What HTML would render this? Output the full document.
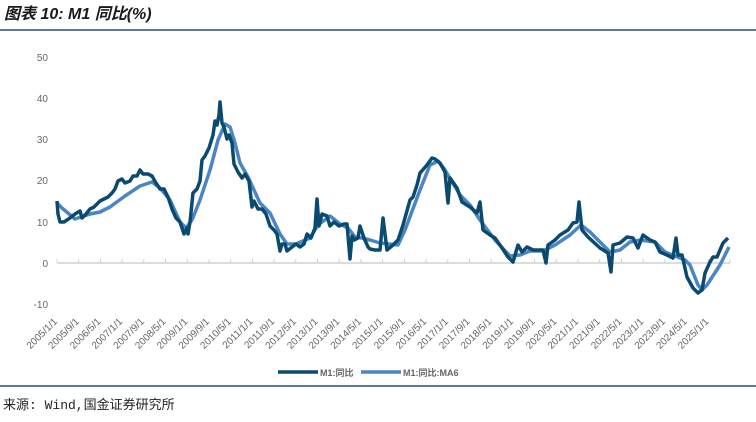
<!DOCTYPE html>
<html><head><meta charset="utf-8"><style>
body{margin:0;background:#fff;width:756px;height:422px;overflow:hidden}
svg{display:block}
</style></head><body>
<svg width="756" height="422" xmlns="http://www.w3.org/2000/svg" font-family="Liberation Sans, Noto Sans CJK SC, sans-serif">
<text x="4" y="19" font-size="16" font-weight="bold" font-style="italic" fill="#1a1a1a">图表 10: M1 同比(%)</text>
<line x1="0" y1="30" x2="756" y2="30" stroke="#1d4f73" stroke-width="1.5"/>
<g font-size="10" fill="#666" text-anchor="end">
<text x="48" y="61">50</text><text x="48" y="102">40</text><text x="48" y="143">30</text>
<text x="48" y="184">20</text><text x="48" y="226">10</text><text x="48" y="267">0</text><text x="48" y="308">-10</text>
</g>
<line x1="57" y1="263" x2="730" y2="263" stroke="#d0d0d0" stroke-width="1.5"/>
<g stroke="#d0d0d0" stroke-width="1">
<path d="M57 263v-4M78.7 263v-4M100.4 263v-4M122.1 263v-4M143.8 263v-4M165.5 263v-4M187.3 263v-4M209 263v-4M230.7 263v-4M252.4 263v-4M274.1 263v-4M295.8 263v-4M317.5 263v-4M339.2 263v-4M360.9 263v-4M382.6 263v-4M404.4 263v-4M426.1 263v-4M447.8 263v-4M469.5 263v-4M491.2 263v-4M512.9 263v-4M534.6 263v-4M556.3 263v-4M578 263v-4M599.7 263v-4M621.5 263v-4M643.2 263v-4M664.9 263v-4M686.6 263v-4M708.3 263v-4M730 263v-4"/>
</g>
<polyline fill="none" stroke="#4a85c4" stroke-width="3.5" stroke-linejoin="round" points="57,203 62,208 75,219 90,214 100,212 110,207 125,196 140,186 152,182 160,188 170,200 180,222 186,228 192,220 200,200 210,170 218,140 225,124 230,127 235,143 240,163 248,177 260,203 270,213 280,234 287,244 296,244 310,238 318,225 330,216 340,224 348,228 355,237 362,238 370,240 380,243 398,245 405,230 420,190 430,165 438,161 445,170 460,195 470,205 480,220 495,240 510,256 520,255 530,251 543,251 555,245 570,235 581,225 590,232 600,242 610,252 620,250 630,242 640,240 655,242 665,252 675,256 685,260 690,265 698,285 702,290 707,285 720,265 729,247"/>
<polyline fill="none" stroke="#0b4a6f" stroke-width="3.5" stroke-linejoin="round" points="57,201 58,214 60,222 64,222 70,218 75,214 80,211 82,218 86,214 90,209 94,207 96,205 100,201 108,197 112,193 115,189 118,181 122,179 125,183 130,181 133,176 137,176 140,170 143,174 148,174 152,176 156,183 160,189 164,189 168,197 172,209 176,218 180,222 184,234 187,228 188,234 190,222 193,193 197,189 200,181 202,160 205,156 209,148 213,135 215,121 217,125 219,115 220,102 222,123 224,127 227,139 229,135 232,143 234,164 238,172 242,178 245,174 249,181 252,207 254,201 258,209 262,209 266,214 270,226 274,230 277,234 280,251 282,244 285,244 287,251 292,247 296,244 300,247 304,244 307,234 311,238 315,228 317,199 319,226 322,214 327,216 330,226 334,222 339,226 344,224 347,224 350,259 352,236 354,240 358,238 360,226 364,238 368,247 370,249 375,250 380,250 383,218 387,250 393,245 398,240 403,225 410,200 413,197 417,185 420,173 427,165 432,158 435,159 440,163 445,172 448,203 450,178 457,188 462,202 470,207 477,213 480,202 483,230 490,235 495,238 502,248 508,257 513,262 518,245 522,252 527,247 533,250 543,250 546,263 548,245 555,240 560,235 568,230 573,223 577,222 579,202 582,230 588,237 600,248 608,253 611,272 613,245 620,243 627,237 633,238 638,248 643,235 650,240 655,242 660,252 667,255 673,258 676,238 678,255 682,255 687,277 693,288 698,293 702,290 705,273 710,262 713,257 717,257 723,243 728,238"/>
<g font-size="10" fill="#666" text-anchor="end">
<text transform="translate(58,322) rotate(-45)">2005/1/1</text>
<text transform="translate(79.7,322) rotate(-45)">2005/9/1</text>
<text transform="translate(101.4,322) rotate(-45)">2006/5/1</text>
<text transform="translate(123.1,322) rotate(-45)">2007/1/1</text>
<text transform="translate(144.8,322) rotate(-45)">2007/9/1</text>
<text transform="translate(166.5,322) rotate(-45)">2008/5/1</text>
<text transform="translate(188.3,322) rotate(-45)">2009/1/1</text>
<text transform="translate(210,322) rotate(-45)">2009/9/1</text>
<text transform="translate(231.7,322) rotate(-45)">2010/5/1</text>
<text transform="translate(253.4,322) rotate(-45)">2011/1/1</text>
<text transform="translate(275.1,322) rotate(-45)">2011/9/1</text>
<text transform="translate(296.8,322) rotate(-45)">2012/5/1</text>
<text transform="translate(318.5,322) rotate(-45)">2013/1/1</text>
<text transform="translate(340.2,322) rotate(-45)">2013/9/1</text>
<text transform="translate(361.9,322) rotate(-45)">2014/5/1</text>
<text transform="translate(383.6,322) rotate(-45)">2015/1/1</text>
<text transform="translate(405.4,322) rotate(-45)">2015/9/1</text>
<text transform="translate(427.1,322) rotate(-45)">2016/5/1</text>
<text transform="translate(448.8,322) rotate(-45)">2017/1/1</text>
<text transform="translate(470.5,322) rotate(-45)">2017/9/1</text>
<text transform="translate(492.2,322) rotate(-45)">2018/5/1</text>
<text transform="translate(513.9,322) rotate(-45)">2019/1/1</text>
<text transform="translate(535.6,322) rotate(-45)">2019/9/1</text>
<text transform="translate(557.3,322) rotate(-45)">2020/5/1</text>
<text transform="translate(579,322) rotate(-45)">2021/1/1</text>
<text transform="translate(600.7,322) rotate(-45)">2021/9/1</text>
<text transform="translate(622.5,322) rotate(-45)">2022/5/1</text>
<text transform="translate(644.2,322) rotate(-45)">2023/1/1</text>
<text transform="translate(665.9,322) rotate(-45)">2023/9/1</text>
<text transform="translate(687.6,322) rotate(-45)">2024/5/1</text>
<text transform="translate(709.3,322) rotate(-45)">2025/1/1</text>
</g>
<line x1="278" y1="372" x2="318" y2="372" stroke="#0b4a6f" stroke-width="3.5"/>
<text x="320" y="376" font-size="9" font-weight="bold" fill="#666">M1:同比</text>
<line x1="361" y1="372" x2="401" y2="372" stroke="#4a85c4" stroke-width="3.5"/>
<text x="403" y="376" font-size="9" font-weight="bold" fill="#666">M1:同比:MA6</text>
<line x1="0" y1="386" x2="756" y2="386" stroke="#1d4f73" stroke-width="1.5"/>
<text x="3" y="409" font-size="13" fill="#222" font-family="Liberation Mono, Noto Sans CJK SC, monospace">来源: Wind,国金证券研究所</text>
</svg>
</body></html>
